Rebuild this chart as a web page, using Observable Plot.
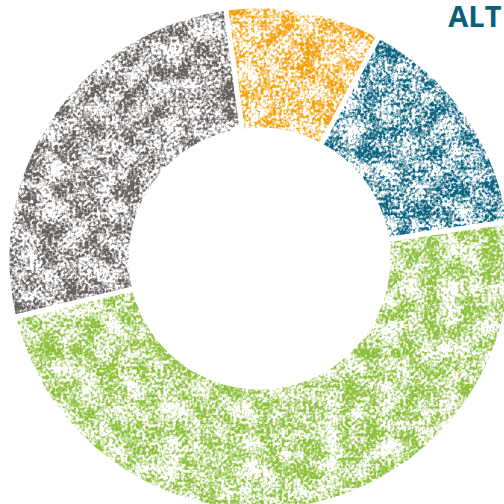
<!DOCTYPE html>
<html>
<head>
<meta charset="utf-8">
<script src="https://cdn.jsdelivr.net/npm/d3@7"></script>
<script src="https://cdn.jsdelivr.net/npm/@observablehq/plot@0.6"></script>
<style>
  html, body { margin: 0; padding: 0; background: #fff; }
  #chart { width: 504px; height: 504px; overflow: hidden; }
</style>
</head>
<body>
<div id="chart"></div>
<script>
// Data (clockwise order, starting at the top-left of the ring)
const categories = ["Segment A", "Segment B", "Segment C", "Segment D"];
const values = [10, 14.8, 48.6, 26.6];
const colors = ["#f4a00a", "#0b6480", "#8dc03b", "#67625f"];
const titleText = "ALT";

// Geometry (pixels)
const W = 504, H = 504;
const cx = 259, cy = 258;
const rOuter = 252.5, rInner = 128.5;
const startAngle = -7.7 * Math.PI / 180;

const arcs = d3.pie().sort(null).value(d => d.value)
  .startAngle(startAngle).endAngle(startAngle + 2 * Math.PI)(
    categories.map((c, i) => ({cat: c, value: values[i]}))
  );

// outline points of each ring segment (outer arc forward, inner arc backward)
const pts = [];
for (const a of arcs) {
  const n = Math.max(8, Math.ceil((a.endAngle - a.startAngle) * 60));
  for (let k = 0; k <= n; k++) {
    const t = a.startAngle + (a.endAngle - a.startAngle) * k / n;
    pts.push({cat: a.data.cat, x: rOuter * Math.sin(t), y: rOuter * Math.cos(t)});
  }
  for (let k = n; k >= 0; k--) {
    const t = a.startAngle + (a.endAngle - a.startAngle) * k / n;
    pts.push({cat: a.data.cat, x: rInner * Math.sin(t), y: rInner * Math.cos(t)});
  }
}

const svg = Plot.plot({
  width: W, height: H,
  margin: 0,
  style: {background: "white", overflow: "visible"},
  x: {domain: [-cx, W - cx], axis: null},
  y: {domain: [-(H - cy), cy], axis: null},
  color: {type: "ordinal", domain: categories, range: colors},
  marks: [
    Plot.line(pts, {
      x: "x", y: "y", z: "cat", fill: {value: "cat", scale: "color"},
      stroke: "white", strokeWidth: 5, strokeLinejoin: "miter",
      curve: "linear-closed"
    }),
    Plot.text([titleText], {
      frameAnchor: "top-right", textAnchor: "end", lineAnchor: "top",
      dx: -3, dy: 6,
      fontSize: 29, fontWeight: "bold", fontFamily: "Open Sans",
      fill: "#0b5f78"
    })
  ]
});

// grainy texture filter
const s = d3.select(svg);
const defs = s.insert("defs", ":first-child");
const f = defs.append("filter").attr("id", "grain")
  .attr("filterUnits", "userSpaceOnUse")
  .attr("x", 0).attr("y", 0).attr("width", W).attr("height", H)
  .attr("color-interpolation-filters", "sRGB");
f.append("feTurbulence").attr("type", "fractalNoise").attr("baseFrequency", 0.33)
  .attr("numOctaves", 2).attr("seed", 4).attr("result", "fine");
f.append("feColorMatrix").attr("in", "fine").attr("type", "matrix")
  .attr("values", "0 0 0 0 0  0 0 0 0 0  0 0 0 0 0  1 0 0 0 0").attr("result", "fineA");
f.append("feTurbulence").attr("type", "fractalNoise").attr("baseFrequency", 0.05)
  .attr("numOctaves", 3).attr("seed", 11).attr("result", "coarse");
f.append("feColorMatrix").attr("in", "coarse").attr("type", "matrix")
  .attr("values", "0 0 0 0 0  0 0 0 0 0  0 0 0 0 0  1 0 0 0 0").attr("result", "coarseA");
f.append("feComposite").attr("in", "fineA").attr("in2", "coarseA")
  .attr("operator", "arithmetic").attr("k1", 0).attr("k2", 0.6).attr("k3", 0.4).attr("k4", 0)
  .attr("result", "mix");
const ct = f.append("feComponentTransfer").attr("in", "mix").attr("result", "mask");
ct.append("feFuncA").attr("type", "linear").attr("slope", 5).attr("intercept", -2.05);
f.append("feComposite").attr("in", "SourceGraphic").attr("in2", "mask").attr("operator", "in");

s.select('g[aria-label="line"]').attr("filter", "url(#grain)");

document.getElementById("chart").appendChild(svg);
</script>
</body>
</html>
